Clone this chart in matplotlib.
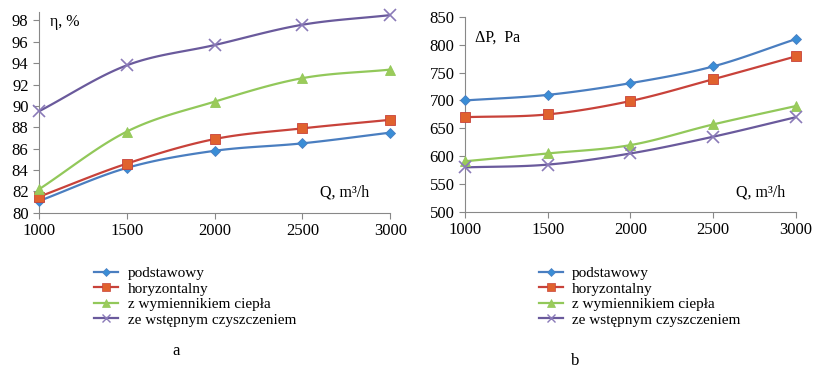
import numpy as np
import matplotlib
matplotlib.use("Agg")
import matplotlib.pyplot as plt
from matplotlib.lines import Line2D

plt.rcParams['font.family'] = ['Liberation Serif', 'DejaVu Serif']

flow = [1000, 1500, 2000, 2500, 3000]
labels = ["podstawowy", "horyzontalny", "z wymiennikiem ciepła", "ze wstępnym czyszczeniem"]

eff_base = [81.1, 84.2, 85.8, 86.5, 87.5]
eff_horiz = [81.5, 84.6, 86.9, 87.9, 88.7]
eff_exch = [82.2, 87.6, 90.4, 92.6, 93.4]
eff_clean = [89.5, 93.8, 95.7, 97.6, 98.5]

dp_base = [700, 710, 731, 761, 810]
dp_horiz = [670, 675, 699, 738, 779]
dp_exch = [591, 605, 620, 657, 690]
dp_clean = [580, 585, 605, 635, 670]

line_colors = ['#4A7EC0', '#C8423A', '#92C85A', '#6A5A9C']
marker_colors = ['#3A8DD6', '#E0622E', '#9BCB5A', '#8A7AB8']
markers = ['D', 's', '^', 'x']
msizes = [5, 7, 7, 8]


def smooth(x, y, n=30):
    # Catmull-Rom style smoothing, similar to spreadsheet "smoothed line"
    x = np.asarray(x, float)
    y = np.asarray(y, float)
    px = np.concatenate([[2 * x[0] - x[1]], x, [2 * x[-1] - x[-2]]])
    py = np.concatenate([[2 * y[0] - y[1]], y, [2 * y[-1] - y[-2]]])
    xs, ys = [], []
    t = np.linspace(0, 1, n)
    for i in range(1, len(px) - 2):
        p0, p1, p2, p3 = px[i - 1], px[i], px[i + 1], px[i + 2]
        q0, q1, q2, q3 = py[i - 1], py[i], py[i + 1], py[i + 2]
        c1x, c1y = p1 + (p2 - p0) / 6, q1 + (q2 - q0) / 6
        c2x, c2y = p2 - (p3 - p1) / 6, q2 - (q3 - q1) / 6
        bx = (1 - t) ** 3 * p1 + 3 * (1 - t) ** 2 * t * c1x + 3 * (1 - t) * t ** 2 * c2x + t ** 3 * p2
        by = (1 - t) ** 3 * q1 + 3 * (1 - t) ** 2 * t * c1y + 3 * (1 - t) * t ** 2 * c2y + t ** 3 * q2
        xs.extend(bx)
        ys.extend(by)
    return xs, ys


def draw(ax, series):
    for i, vals in enumerate(series):
        sx, sy = smooth(flow, vals)
        ax.plot(sx, sy, color=line_colors[i], lw=1.6, zorder=2)
        if markers[i] == 'x':
            ax.plot(flow, vals, ls='none', marker='x', ms=msizes[i], mew=1.2,
                    color=marker_colors[i], zorder=3, clip_on=False)
        else:
            ax.plot(flow, vals, ls='none', marker=markers[i], ms=msizes[i],
                    mfc=marker_colors[i], mec=line_colors[i], mew=0.6, zorder=3, clip_on=False)
    for s in ['top', 'right']:
        ax.spines[s].set_visible(False)
    for s in ['left', 'bottom']:
        ax.spines[s].set_color('#888888')
    ax.tick_params(colors='#888888', labelcolor='black', labelsize=12, length=4)
    ax.set_xlim(1000, 3000)
    ax.set_xticks(flow)


fig = plt.figure(figsize=(8.13, 3.72), dpi=100)

ax1 = fig.add_axes([0.048, 0.428, 0.432, 0.54])
draw(ax1, [eff_base, eff_horiz, eff_exch, eff_clean])
ax1.set_ylim(80, 98.8)
ax1.set_yticks(range(80, 99, 2))
ax1.text(0.03, 0.93, "η, %", transform=ax1.transAxes, fontsize=11.5)
ax1.text(0.8, 0.08, "Q, m³/h", transform=ax1.transAxes, fontsize=11.5)

ax2 = fig.add_axes([0.572, 0.43, 0.407, 0.525])
draw(ax2, [dp_base, dp_horiz, dp_exch, dp_clean])
ax2.set_ylim(500, 850)
ax2.set_yticks(range(500, 851, 50))
ax2.text(0.03, 0.87, "ΔP,  Pa", transform=ax2.transAxes, fontsize=11.5)
ax2.text(0.82, 0.08, "Q, m³/h", transform=ax2.transAxes, fontsize=11.5)

handles = []
for i in range(4):
    if markers[i] == 'x':
        h = Line2D([], [], color=line_colors[i], lw=1.6, marker='x', ms=6,
                   mec=marker_colors[i], mew=1.0)
    else:
        h = Line2D([], [], color=line_colors[i], lw=1.6, marker=markers[i], ms=msizes[i] - 1,
                   mfc=marker_colors[i], mec=line_colors[i], mew=0.5)
    handles.append(h)

for xpos in [0.108, 0.655]:
    fig.legend(handles, labels, loc='upper left', bbox_to_anchor=(xpos, 0.3),
               frameon=False, fontsize=11, handlelength=1.6, handletextpad=0.6,
               labelspacing=0.12, borderaxespad=0)
fig.text(0.217, 0.045, "a", fontsize=12, ha='center')
fig.text(0.708, 0.02, "b", fontsize=12, ha='center')

fig.savefig("out.png", dpi=100)
